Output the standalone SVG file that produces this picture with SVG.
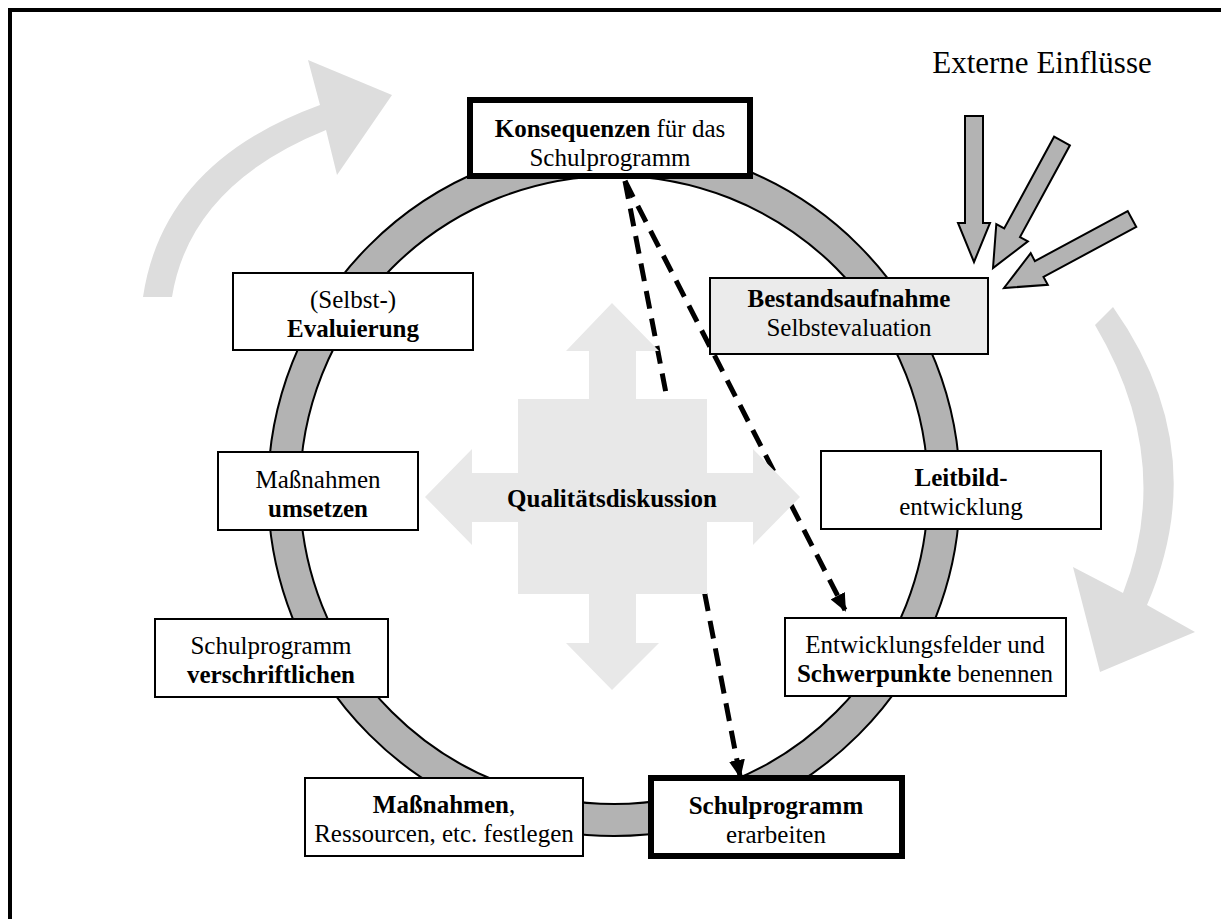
<svg xmlns="http://www.w3.org/2000/svg" width="1221" height="919" viewBox="0 0 1221 919">
<defs>
<style>
text{font-family:"Liberation Serif","Times New Roman",serif;font-size:25px;fill:#000;text-anchor:middle}
.b{font-weight:bold}
.box{fill:#fff;stroke:#000;stroke-width:2}
.thick{fill:#fff;stroke:#000;stroke-width:6}
.light{fill:#dddddd;stroke:none}
.ext{fill:#b3b3b3;stroke:#000;stroke-width:2;stroke-linejoin:miter}
.dash{fill:none;stroke:#000;stroke-width:5;stroke-dasharray:18 10}
</style>
<marker id="ah" markerUnits="userSpaceOnUse" markerWidth="18" markerHeight="16" viewBox="0 0 18 16" refX="16" refY="8" orient="auto">
<path d="M0,0 L18,8 L0,16 Z" fill="#000"/>
</marker>
</defs>
<rect x="10" y="10" width="1240" height="940" fill="#fff" stroke="#000" stroke-width="4"/>
<g id="cycle-arrows">
<path class="light" d="M143,297 Q163,162 320,105 L308,60 L392,95 L337,175 L326,130 Q190,185 172,297 Z"/>
<path class="light" d="M1095,325 L1113,307 Q1214,450 1147,605 L1195,632 L1100,672 L1073,567 L1123,593 Q1175,460 1095,325 Z"/>
</g>
<g id="ring">
<circle cx="614" cy="490" r="330" fill="none" stroke="#000" stroke-width="34"/>
<circle cx="614" cy="490" r="330" fill="none" stroke="#b3b3b3" stroke-width="30"/>
</g>
<g id="connectors">
<path class="dash" d="M625,181 L845,610" marker-end="url(#ah)"/>
<path class="dash" d="M625,181 L740,776" marker-end="url(#ah)"/>
</g>
<g id="qualitaetsdiskussion">
<polygon fill="#e8e8e8" points="612,303 659,351 636,351 636,399 707,399 707,473 753,473 753,449 800,497 753,545 753,522 707,522 707,594 636,594 636,643 659,643 612,690 566,643 589,643 589,594 518,594 518,522 472,522 472,545 425,497 472,449 472,473 518,473 518,399 589,399 589,351 566,351"/>
<text class="b" x="612" y="507">Qualitätsdiskussion</text>
</g>
<g id="konsequenzen">
<rect class="thick" x="470" y="100" width="280" height="76"/>
<text x="610" y="137"><tspan class="b">Konsequenzen</tspan> für das</text>
<text x="610" y="166">Schulprogramm</text>
</g>
<g id="bestandsaufnahme">
<rect x="710" y="278" width="278" height="76" fill="#ebebeb" stroke="#000" stroke-width="2"/>
<text class="b" x="849" y="307">Bestandsaufnahme</text>
<text x="849" y="336">Selbstevaluation</text>
</g>
<g id="leitbild">
<rect class="box" x="821" y="451" width="280" height="78"/>
<text class="b" x="961" y="486">Leitbild-</text>
<text x="961" y="515">entwicklung</text>
</g>
<g id="entwicklungsfelder">
<rect class="box" x="785" y="618" width="281" height="78"/>
<text x="925" y="653">Entwicklungsfelder und</text>
<text x="925" y="682"><tspan class="b">Schwerpunkte</tspan> benennen</text>
</g>
<g id="schulprogramm-erarbeiten">
<rect class="thick" x="651" y="778" width="251" height="78"/>
<text class="b" x="776" y="814">Schulprogramm</text>
<text x="776" y="843">erarbeiten</text>
</g>
<g id="massnahmen-festlegen">
<rect class="box" x="305" y="778" width="278" height="78"/>
<text x="444" y="813"><tspan class="b">Maßnahmen</tspan>,</text>
<text x="444" y="842">Ressourcen, etc. festlegen</text>
</g>
<g id="verschriftlichen">
<rect class="box" x="155" y="619" width="233" height="78"/>
<text x="271" y="654">Schulprogramm</text>
<text class="b" x="271" y="683">verschriftlichen</text>
</g>
<g id="umsetzen">
<rect class="box" x="218" y="452" width="200" height="78"/>
<text x="318" y="488">Maßnahmen</text>
<text class="b" x="318" y="517">umsetzen</text>
</g>
<g id="evaluierung">
<rect class="box" x="233" y="273" width="240" height="77"/>
<text x="353" y="308">(Selbst-)</text>
<text class="b" x="353" y="337">Evaluierung</text>
</g>
<g id="externe-einfluesse">
<text x="1042" y="73" style="font-size:31px">Externe Einflüsse</text>
<polygon class="ext" points="965,116 983,116 983,223 990,223 974,262 958,223 965,223"/>
<polygon class="ext" points="1069.9,145.3 1054.1,136.7 1004.2,228.5 996.3,224.2 993,268 1027.9,241.4 1020,237.1"/>
<polygon class="ext" points="1136.3,226.9 1127.7,211.1 1034.9,261.1 1030.7,253.2 1004,288 1047.8,284.8 1043.5,276.9"/>
</g>
</svg>
